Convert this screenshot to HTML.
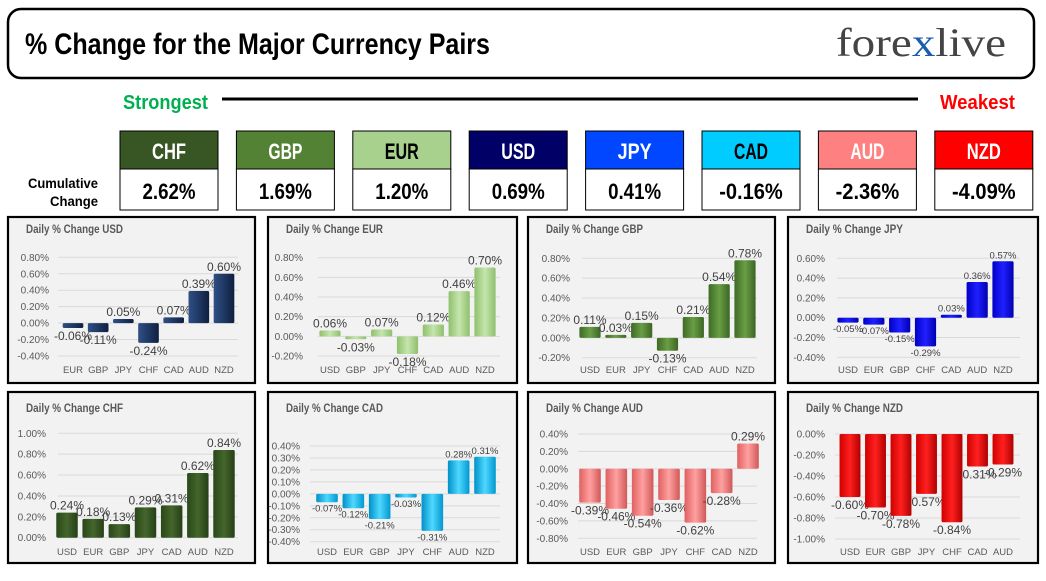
<!DOCTYPE html>
<html><head><meta charset="utf-8"><style>
body{margin:0;background:#fff;width:1046px;height:581px;overflow:hidden}
svg{display:block}
.cond{font-family:"Liberation Sans Narrow","Liberation Sans",sans-serif;font-weight:bold}
</style></head><body>
<svg id="s" width="1046" height="581" xmlns="http://www.w3.org/2000/svg">
<defs>
<linearGradient id="gUSD" x1="0" x2="1"><stop offset="0" stop-color="#2f4f86"/><stop offset="0.5" stop-color="#1f3864"/><stop offset="1" stop-color="#0f1f3f"/></linearGradient>
<linearGradient id="gEUR" x1="0" x2="1"><stop offset="0" stop-color="#8fc06c"/><stop offset="0.5" stop-color="#c5e5ad"/><stop offset="1" stop-color="#8fbf6d"/></linearGradient>
<linearGradient id="gGBP" x1="0" x2="1"><stop offset="0" stop-color="#3e6a26"/><stop offset="0.5" stop-color="#6a9e45"/><stop offset="1" stop-color="#3c6524"/></linearGradient>
<linearGradient id="gJPY" x1="0" x2="1"><stop offset="0" stop-color="#0000c8"/><stop offset="0.5" stop-color="#2020ff"/><stop offset="1" stop-color="#0000b0"/></linearGradient>
<linearGradient id="gCHF" x1="0" x2="1"><stop offset="0" stop-color="#2a4719"/><stop offset="0.5" stop-color="#44662c"/><stop offset="1" stop-color="#263f16"/></linearGradient>
<linearGradient id="gCAD" x1="0" x2="1"><stop offset="0" stop-color="#0090c8"/><stop offset="0.5" stop-color="#4fd8ff"/><stop offset="1" stop-color="#0098d0"/></linearGradient>
<linearGradient id="gAUD" x1="0" x2="1"><stop offset="0" stop-color="#e06060"/><stop offset="0.5" stop-color="#ffa0a0"/><stop offset="1" stop-color="#d05858"/></linearGradient>
<linearGradient id="gNZD" x1="0" x2="1"><stop offset="0" stop-color="#d00000"/><stop offset="0.5" stop-color="#ff2020"/><stop offset="1" stop-color="#b00000"/></linearGradient>
</defs>
<rect x="8" y="9" width="1026" height="69" rx="13" fill="#fff" stroke="#000" stroke-width="2.5"/>
<text x="25" y="54" class="cond" font-size="30" textLength="465" lengthAdjust="spacingAndGlyphs" fill="#000">% Change for the Major Currency Pairs</text>
<text x="836" y="56" font-family="Liberation Serif,serif" font-size="40" textLength="170" lengthAdjust="spacingAndGlyphs" fill="#444">fore<tspan fill="#1a5db0">x</tspan>live</text>
<text x="123" y="109" class="cond" font-size="20" textLength="85" lengthAdjust="spacingAndGlyphs" fill="#00b050">Strongest</text>
<line x1="222" y1="99" x2="918" y2="99" stroke="#000" stroke-width="3"/>
<text x="940" y="109" class="cond" font-size="20" textLength="75" lengthAdjust="spacingAndGlyphs" fill="#ff0000">Weakest</text>
<text x="28" y="188" class="cond" font-size="14" textLength="70" lengthAdjust="spacingAndGlyphs" fill="#000">Cumulative</text>
<text x="50" y="206" class="cond" font-size="14" textLength="48" lengthAdjust="spacingAndGlyphs" fill="#000">Change</text>
<g id="boxes"></g>
<g id="charts"></g>
</svg>
<script>
const rankCurr = ['CHF','GBP','EUR','USD','JPY','CAD','AUD','NZD'];
const rankVals = [2.62, 1.69, 1.20, 0.69, 0.41, -0.16, -2.36, -4.09];

const usdCats = ['EUR','GBP','JPY','CHF','CAD','AUD','NZD'];
const usdVals = [-0.06, -0.11, 0.05, -0.24, 0.07, 0.39, 0.60];
const usdTicks = [0.8, 0.6, 0.4, 0.2, 0, -0.2, -0.4];
const eurCats = ['USD','GBP','JPY','CHF','CAD','AUD','NZD'];
const eurVals = [0.06, -0.03, 0.07, -0.18, 0.12, 0.46, 0.70];
const eurTicks = [0.8, 0.6, 0.4, 0.2, 0, -0.2];
const gbpCats = ['USD','EUR','JPY','CHF','CAD','AUD','NZD'];
const gbpVals = [0.11, 0.03, 0.15, -0.13, 0.21, 0.54, 0.78];
const gbpTicks = [0.8, 0.6, 0.4, 0.2, 0, -0.2];
const jpyCats = ['USD','EUR','GBP','CHF','CAD','AUD','NZD'];
const jpyVals = [-0.05, -0.07, -0.15, -0.29, 0.03, 0.36, 0.57];
const jpyTicks = [0.6, 0.4, 0.2, 0, -0.2, -0.4];
const chfCats = ['USD','EUR','GBP','JPY','CAD','AUD','NZD'];
const chfVals = [0.24, 0.18, 0.13, 0.29, 0.31, 0.62, 0.84];
const chfTicks = [1.0, 0.8, 0.6, 0.4, 0.2, 0];
const cadCats = ['USD','EUR','GBP','JPY','CHF','AUD','NZD'];
const cadVals = [-0.07, -0.12, -0.21, -0.03, -0.31, 0.28, 0.31];
const cadTicks = [0.4, 0.3, 0.2, 0.1, 0, -0.1, -0.2, -0.3, -0.4];
const audCats = ['USD','EUR','GBP','JPY','CHF','CAD','NZD'];
const audVals = [-0.39, -0.46, -0.54, -0.36, -0.62, -0.28, 0.29];
const audTicks = [0.4, 0.2, 0, -0.2, -0.4, -0.6, -0.8];
const nzdCats = ['USD','EUR','GBP','JPY','CHF','CAD','AUD'];
const nzdVals = [-0.60, -0.70, -0.78, -0.57, -0.84, -0.31, -0.29];
const nzdTicks = [0, -0.2, -0.4, -0.6, -0.8, -1.0];

const NS='http://www.w3.org/2000/svg';
function mk(tag, attrs, parent){const e=document.createElementNS(NS,tag);for(const k in attrs)e.setAttribute(k,attrs[k]);parent.appendChild(e);return e;}

const hdrFill={CHF:'#375623',GBP:'#548235',EUR:'#a9d18e',USD:'#000066',JPY:'#0047ff',CAD:'#00ccff',AUD:'#ff8080',NZD:'#ff0000'};
const hdrText={CHF:'#fff',GBP:'#fff',EUR:'#000',USD:'#fff',JPY:'#fff',CAD:'#000',AUD:'#fff',NZD:'#fff'};
const boxes=document.getElementById('boxes');
rankCurr.forEach((c,i)=>{
  const x=120+i*116.4;
  const h=mk('rect',{x:x,y:131,width:98,height:38,fill:hdrFill[c],stroke:'#000','stroke-width':1},boxes);
  
  
  const v=mk('rect',{x:x,y:169,width:98,height:41,fill:'#fff',stroke:'#000','stroke-width':1},boxes);
  
  
  const t=mk('text',{x:x+49,y:159,'text-anchor':'middle','class':'cond','font-size':22,textLength:34,lengthAdjust:'spacingAndGlyphs',fill:hdrText[c]},boxes);
  t.textContent=c;
  
  
  const txt=rankVals[i].toFixed(2)+'%';
  const tv=mk('text',{x:x+49,y:199,'text-anchor':'middle','class':'cond','font-size':22,textLength:txt.length*10.6,lengthAdjust:'spacingAndGlyphs',fill:'#000'},boxes);
  tv.textContent=txt;
  
  
});

const charts=[
 {id:'usd',title:'Daily % Change USD',cats:usdCats,vals:usdVals,ticks:usdTicks,panel:[8,217,247,166],pl:58,pr:238,v0:0.8,y0:257.3,v1:-0.4,y1:356,c0:73,c1:224,tr:49,ly:373,ty:234,fs:12},
 {id:'eur',title:'Daily % Change EUR',cats:eurCats,vals:eurVals,ticks:eurTicks,panel:[268,217,249,166],pl:318,pr:500,v0:0.8,y0:257.7,v1:-0.2,y1:356,c0:330,c1:485,tr:303,ly:373,ty:234,fs:12},
 {id:'gbp',title:'Daily % Change GBP',cats:gbpCats,vals:gbpVals,ticks:gbpTicks,panel:[528,217,247,166],pl:582,pr:757,v0:0.8,y0:258.3,v1:-0.2,y1:357.7,c0:590,c1:745,tr:570,ly:373,ty:234,fs:12},
 {id:'jpy',title:'Daily % Change JPY',cats:jpyCats,vals:jpyVals,ticks:jpyTicks,panel:[788,217,250,166],pl:837,pr:1020,v0:0.6,y0:258.3,v1:-0.4,y1:357.3,c0:848,c1:1003,tr:825,ly:373,ty:234,fs:9.5},
 {id:'chf',title:'Daily % Change CHF',cats:chfCats,vals:chfVals,ticks:chfTicks,panel:[8,392,247,171],pl:58,pr:238,v0:1.0,y0:433.3,v1:0,y1:537.7,c0:67,c1:224,tr:46,ly:555,ty:413,fs:12},
 {id:'cad',title:'Daily % Change CAD',cats:cadCats,vals:cadVals,ticks:cadTicks,panel:[268,392,249,171],pl:310,pr:500,v0:0.4,y0:446,v1:-0.4,y1:541.7,c0:327,c1:485,tr:300,ly:555,ty:413,fs:9.5},
 {id:'aud',title:'Daily % Change AUD',cats:audCats,vals:audVals,ticks:audTicks,panel:[528,392,247,171],pl:578,pr:757,v0:0.4,y0:434,v1:-0.8,y1:538.3,c0:590,c1:748,tr:568,ly:555,ty:413,fs:12},
 {id:'nzd',title:'Daily % Change NZD',cats:nzdCats,vals:nzdVals,ticks:nzdTicks,panel:[788,392,250,171],pl:835,pr:1020,v0:0,y0:434,v1:-1.0,y1:539,c0:850,c1:1003,tr:825,ly:555,ty:413,fs:12}
];
const root=document.getElementById('charts');
charts.forEach(c=>{
  const g=mk('g',{},root);
  
  
  const p=c.panel;
  const bg=mk('rect',{x:p[0],y:p[1],width:p[2],height:p[3],fill:'#f2f2f2',stroke:'#000','stroke-width':2.2},g);
  
  
  const tt=mk('text',{x:p[0]+18,y:c.ty-1,'font-family':'Liberation Sans,sans-serif','font-weight':'bold','font-size':12,textLength:97,lengthAdjust:'spacingAndGlyphs',fill:'#595959'},g);
  tt.textContent=c.title;
  
  
  const yS=v=>c.y0+(v-c.v0)*(c.y1-c.y0)/(c.v1-c.v0);
  const n=c.cats.length;
  const xS=i=>c.c0+i*(c.c1-c.c0)/(n-1);
  const bw=(c.c1-c.c0)/(n-1)*0.82;
  c.ticks.forEach(t=>{
    const y=yS(t);
    const gl=mk('line',{x1:c.pl,x2:c.pr,y1:y,y2:y,stroke:'#d9d9d9','stroke-width':1},g);
    
    
    const tl=mk('text',{x:c.tr,y:y+3.5,'text-anchor':'end','font-family':'Liberation Sans,sans-serif','font-size':10,fill:'#595959'},g);
    tl.textContent=t.toFixed(2)+'%';
    
    
  });
  const z=yS(0);
  c.vals.forEach((v,i)=>{
    const x=xS(i), y=yS(v);
    const b=mk('rect',{x:x-bw/2,y:Math.min(y,z),width:bw,height:Math.max(1.5,Math.abs(y-z)),fill:'url(#g'+c.id.toUpperCase()+')',rx:1.5},g);
    
    
    const vl=mk('text',{x:x,y:v>=0?y-3:y+c.fs,'text-anchor':'middle','font-family':'Liberation Sans,sans-serif','font-size':c.fs,fill:'#404040'},g);
    vl.textContent=v.toFixed(2)+'%';
    
    
    const cl=mk('text',{x:x,y:c.ly,'text-anchor':'middle','font-family':'Liberation Sans,sans-serif','font-size':9.5,fill:'#595959'},g);
    cl.textContent=c.cats[i];
    
    
  });
});
</script>
</body></html>
